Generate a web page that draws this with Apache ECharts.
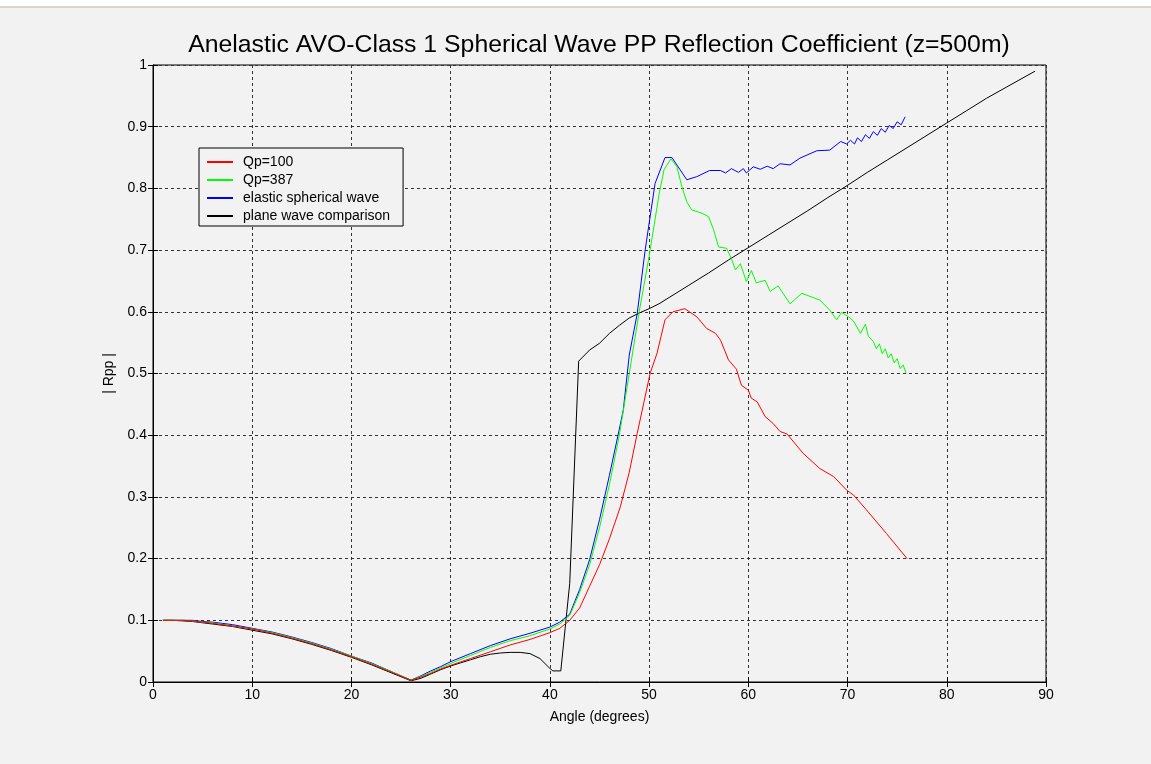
<!DOCTYPE html>
<html>
<head>
<meta charset="utf-8">
<script src="https://cdn.jsdelivr.net/npm/echarts@6/dist/echarts.min.js"></script>
<style>
html,body{margin:0;padding:0;background:#f2f2f2;}
#chart{width:1151px;height:764px;}
</style>
</head>
<body>
<div id="chart"></div>
<script>
const titleText = 'Anelastic AVO-Class 1 Spherical Wave PP Reflection Coefficient (z=500m)';
const xName = 'Angle (degrees)';
const yName = '| Rpp |';
const seriesNames = ['Qp=100', 'Qp=387', 'elastic spherical wave', 'plane wave comparison'];
const seriesColors = ['#ff0000', '#00ff00', '#0000ff', '#000000'];

const qp100 = [
  [1,0.100],[2,0.100],[3,0.100],[4,0.099],[5,0.097],[6,0.095],[8,0.091],[10,0.086],[12,0.079],[14,0.071],
  [16,0.062],[18,0.052],[20,0.041],[22,0.029],[24,0.016],[26,0.003],[27,0.008],[28,0.014],[29,0.021],
  [30,0.027],[32,0.038],[34,0.049],[36,0.060],[38,0.069],[40,0.080],[41,0.087],[42,0.100],[43,0.120],
  [44,0.155],[45,0.190],[46,0.232],[47.1,0.284],[48,0.340],[48.8,0.403],[49.5,0.455],[50.1,0.500],
  [50.8,0.533],[51.6,0.587],[52.4,0.600],[53.6,0.605],[54.8,0.592],[55.8,0.573],[56.7,0.565],[57.2,0.554],
  [58.0,0.522],[58.8,0.507],[59.3,0.481],[60.0,0.473],[60.3,0.460],[60.9,0.454],[61.7,0.430],[62.5,0.419],
  [63.2,0.406],[63.9,0.402],[65.5,0.371],[67.2,0.346],[68.6,0.333],[69.9,0.311],[70.6,0.303],[71.9,0.279],
  [73.9,0.241],[76.0,0.200]
];
const qp387 = [
  [1,0.100],[2,0.100],[3,0.100],[4,0.099],[5,0.097],[6,0.096],[8,0.091],[10,0.086],[12,0.080],[14,0.072],
  [16,0.063],[18,0.053],[20,0.042],[22,0.030],[24,0.017],[26,0.003],[27,0.009],[28,0.016],[29,0.023],
  [30,0.030],[32,0.043],[34,0.056],[36,0.067],[38,0.075],[40,0.086],[41,0.094],[42,0.108],[43,0.145],
  [44,0.190],[45,0.250],[46,0.320],[47,0.400],[48,0.500],[49,0.600],[50,0.690],[51,0.790],[51.5,0.830],
  [52.2,0.848],[52.8,0.835],[53.3,0.803],[53.8,0.778],[54.3,0.765],[55.3,0.760],[56.0,0.754],[56.5,0.733],
  [57.0,0.705],[57.8,0.703],[58.3,0.686],[58.7,0.668],[59.2,0.678],[59.8,0.649],[60.3,0.667],[60.8,0.647],
  [61.7,0.651],[62.2,0.633],[63.0,0.642],[64.2,0.613],[65.4,0.630],[67.2,0.619],[68.2,0.603],[68.9,0.587],
  [69.4,0.599],[70.1,0.592],[70.6,0.585],[70.8,0.584],[71.3,0.565],[71.8,0.580],[72.1,0.560],[72.6,0.552],
  [72.9,0.540],[73.2,0.548],[73.5,0.532],[73.8,0.540],[74.1,0.525],[74.4,0.532],[74.7,0.517],[75.0,0.524],
  [75.3,0.508],[75.6,0.514],[75.9,0.500]
];
const elastic = [
  [1,0.100],[2,0.100],[3,0.100],[4,0.100],[5,0.098],[6,0.097],[8,0.093],[10,0.087],[12,0.081],[14,0.073],
  [16,0.064],[18,0.054],[20,0.042],[22,0.031],[24,0.017],[26,0.003],[27,0.010],[28,0.018],[29,0.025],
  [30,0.033],[32,0.046],[34,0.059],[36,0.070],[38,0.079],[40,0.089],[41,0.097],[42,0.110],[43,0.150],
  [44,0.198],[45,0.263],[46,0.335],[47,0.410],[47.4,0.441],[48,0.530],[48.8,0.597],[49.6,0.700],
  [50.6,0.808],[51.6,0.850],[52.3,0.850],[53.8,0.814],[54.8,0.819],[56.1,0.829],[57.2,0.829],[57.7,0.825],
  [58.3,0.832],[59.0,0.826],[59.5,0.832],[59.8,0.825],[60.5,0.835],[61.2,0.831],[61.9,0.836],[62.5,0.832],
  [63.2,0.840],[64.2,0.838],[65.2,0.849],[66.9,0.861],[68.2,0.862],[69.3,0.876],[69.9,0.872],[70.3,0.878],
  [70.7,0.872],[71.0,0.882],[71.4,0.876],[71.8,0.887],[72.2,0.881],[72.6,0.892],[73.0,0.886],[73.4,0.897],
  [73.8,0.891],[74.2,0.902],[74.6,0.897],[75.0,0.908],[75.4,0.903],[75.8,0.916]
];
const plane = [
  [1,0.100],[2,0.100],[3,0.099],[4,0.098],[5,0.096],[6,0.094],[8,0.090],[10,0.084],[12,0.078],[14,0.070],
  [16,0.061],[18,0.051],[20,0.040],[22,0.028],[24,0.015],[26,0.002],[27,0.006],[28,0.013],[29,0.020],
  [30,0.026],[31,0.031],[32,0.036],[33,0.041],[34,0.045],[35,0.047],[36,0.048],[37,0.048],[38,0.046],
  [39,0.038],[40,0.022],[40.3,0.018],[41.1,0.018],[42.0,0.160],[42.6,0.400],[42.9,0.520],[43.05,0.522],
  [44,0.538],[45,0.549],[46,0.565],[47,0.578],[48,0.590],[49,0.598],[50,0.605],[51,0.613],[52,0.623],
  [53,0.633],[54,0.643],[56,0.663],[58,0.684],[60,0.704],[62,0.724],[64,0.744],[66,0.764],[68,0.785],
  [70,0.805],[72,0.826],[74,0.846],[76,0.866],[78,0.886],[80,0.906],[82,0.926],[84,0.946],[86,0.964],
  [88,0.982],[88.9,0.990]
];
const seriesData = [qp100, qp387, elastic, plane];

const chart = echarts.init(document.getElementById('chart'));
const FONT = 'Liberation Sans, Arial, sans-serif';
const gridLine = {show: true, lineStyle: {color: '#333', type: [3, 3], width: 1}};
chart.setOption({
  backgroundColor: '#f2f2f2',
  animation: false,
  graphic: [
    {type: 'rect', shape: {x: 0, y: 0, width: 1151, height: 6}, style: {fill: '#ffffff'}, silent: true},
    {type: 'rect', shape: {x: 0, y: 6, width: 1151, height: 2}, style: {fill: '#d8d4cc'}, silent: true}
  ],
  title: {
    text: titleText, left: 594, top: 28, textAlign: 'center',
    textStyle: {fontFamily: FONT, fontSize: 24.8, fontWeight: 'normal', color: '#000'}
  },
  grid: {left: 153, right: 105, top: 65, bottom: 82, show: true, borderColor: '#000', borderWidth: 1, backgroundColor: 'transparent'},
  legend: {
    orient: 'vertical', left: 199, top: 148,
    data: seriesNames,
    itemWidth: 26, itemHeight: 14, itemGap: 4,
    padding: [7, 13, 3, 7],
    itemStyle: {opacity: 0},
    backgroundColor: '#f2f2f2', borderColor: '#000', borderWidth: 1, borderRadius: 0,
    textStyle: {fontFamily: FONT, fontSize: 14, color: '#000', padding: [0, 0, 0, 5]}
  },
  xAxis: [{
    type: 'value', min: 0, max: 90, interval: 10,
    name: xName, nameLocation: 'middle', nameGap: 28,
    nameTextStyle: {fontFamily: FONT, fontSize: 14, color: '#000'},
    axisLine: {show: true, lineStyle: {color: '#000'}},
    axisTick: {show: true, inside: true, length: 5, lineStyle: {color: '#000'}},
    axisLabel: {fontFamily: FONT, fontSize: 14, color: '#000', margin: 6},
    splitLine: gridLine
  }, {
    type: 'value', min: 0, max: 90, interval: 10, position: 'top',
    axisLine: {show: true, lineStyle: {color: '#000'}},
    axisTick: {show: true, inside: true, length: 5, lineStyle: {color: '#000'}},
    axisLabel: {show: false}, splitLine: {show: false}
  }],
  yAxis: [{
    type: 'value', min: 0, max: 1, interval: 0.1,
    name: yName, nameLocation: 'middle', nameGap: 37,
    nameTextStyle: {fontFamily: FONT, fontSize: 14, color: '#000'},
    axisLine: {show: true, lineStyle: {color: '#000'}},
    axisTick: {show: true, inside: true, length: 5, lineStyle: {color: '#000'}},
    axisLabel: {fontFamily: FONT, fontSize: 14, color: '#000', margin: 6},
    splitLine: gridLine
  }, {
    type: 'value', min: 0, max: 1, interval: 0.1, position: 'right',
    axisLine: {show: true, lineStyle: {color: '#000'}},
    axisTick: {show: true, inside: true, length: 5, lineStyle: {color: '#000'}},
    axisLabel: {show: false}, splitLine: {show: false}
  }],
  series: seriesNames.map((n, i) => ({
    name: n, type: 'line', data: seriesData[i],
    xAxisIndex: 0, yAxisIndex: 0,
    symbol: 'none', showSymbol: false,
    lineStyle: {color: seriesColors[i], width: 1},
    itemStyle: {color: seriesColors[i]},
    z: 10 - i
  }))
});
</script>
</body>
</html>
